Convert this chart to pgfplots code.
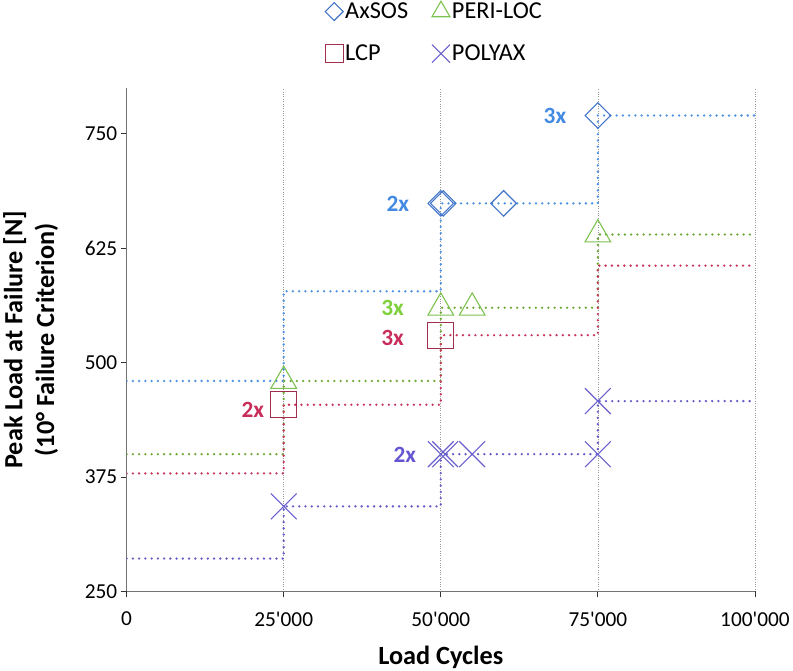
\documentclass[border=0pt]{standalone}
\usepackage{fontspec}
\setmainfont{Carlito}[Ligatures=TeXOff]
\usepackage{pgfplots}
\pgfplotsset{compat=1.18}
\definecolor{bL}{RGB}{74,144,226}
\definecolor{bM}{RGB}{66,116,200}
\definecolor{bT}{RGB}{67,138,226}
\definecolor{gL}{RGB}{108,168,50}
\definecolor{gM}{RGB}{124,194,78}
\definecolor{gT}{RGB}{126,208,60}
\definecolor{rL}{RGB}{200,52,90}
\definecolor{rM}{RGB}{158,48,78}
\definecolor{rT}{RGB}{200,45,90}
\definecolor{pL}{RGB}{100,90,200}
\definecolor{pM}{RGB}{105,95,205}
\definecolor{pT}{RGB}{100,85,210}
\tikzset{dotline/.style={line width=2.6pt, dash pattern=on 0pt off 6.3pt, line cap=round}}
\begin{document}
\begin{tikzpicture}
\begin{axis}[
  scale only axis, width=634pt, height=508pt,
  xmin=0, xmax=100000, ymin=250, ymax=800,
  axis lines=left, axis line style={-, draw=black!55, line width=1.2pt},
  scaled x ticks=false, scaled y ticks=false,
  xtick={0,25000,50000,75000,100000},
  xticklabels={0,25\textquotesingle000,50\textquotesingle000,75\textquotesingle000,100\textquotesingle000},
  ytick={250,375,500,625,750},
  yticklabels={250,375,500,625,750},
  /pgf/number format/assume math mode=true,
  tick align=outside, major tick length=6pt, tick style={black!80, line width=0.8pt},
  xmajorgrids, major grid style={black!40, dotted, line width=0.7pt},
  ticklabel style={font=\fontsize{21.5}{26}\selectfont},
  xticklabel style={yshift=-11pt},
  xlabel={Load Cycles},
  ylabel={Peak Load at Failure [N]\\(10° Failure Criterion)},
  label style={font=\bfseries\fontsize{26.5}{32}\selectfont},
  xlabel style={yshift=-14pt, inner sep=2pt},
  ylabel style={align=center, yshift=20pt},
  legend columns=2,
  legend style={at={(0.49,1.045)}, anchor=south, draw=none, fill=none,
    font=\fontsize{24.5}{29}\selectfont, row sep=21pt, inner sep=1pt,
    /tikz/every even column/.append style={column sep=22pt}},
  legend image post style={every mark/.append style={scale=0.7}},
  legend cell align=left,
]
% step lines
\addplot[const plot, bL, dotline, forget plot] coordinates {(0,480)(25000,578)(50000,674)(75000,770)(100000,770)};
\addplot[const plot, gL, dotline, forget plot] coordinates {(0,400)(25000,480)(50000,560)(75000,640)(100000,640)};
\addplot[const plot, rL, dotline, forget plot] coordinates {(0,379)(25000,454)(50000,530)(75000,606)(100000,606)};
\addplot[const plot, pL, dotline, forget plot] coordinates {(0,286)(25000,343)(50000,400)(75000,458)(100000,458)};
% markers
\addplot[only marks, mark=square, mark size=9.1pt, draw=bM, mark options={rotate=45, line width=1.1pt}] coordinates {(50000,674)(50400,674)(60000,674)(75000,770)};
\addlegendentry{AxSOS}
\addplot[only marks, mark=triangle, mark size=15pt, draw=gM, mark options={line width=1.1pt}] coordinates {(25000,480)(50000,560)(55000,560)(75000,640)};
\addlegendentry{PERI-LOC}
\addplot[only marks, mark=square, mark size=13pt, draw=rM, mark options={line width=1.1pt}] coordinates {(25000,454)(50000,530)};
\addlegendentry{LCP}
\addplot[only marks, mark=x, mark size=18.4pt, draw=pM, mark options={line width=1.1pt}] coordinates {(25000,343)(50000,400)(50700,400)(55000,400)(75000,400)(75000,458)};
\addlegendentry{POLYAX}
% annotations
\node[anchor=east, text=bT, font=\bfseries\fontsize{23.5}{28}\selectfont, inner sep=0pt] at (axis cs:45000,674) {2x};
\node[anchor=east, text=bT, font=\bfseries\fontsize{23.5}{28}\selectfont, inner sep=0pt] at (axis cs:70000,770) {3x};
\node[anchor=east, text=gT, font=\bfseries\fontsize{23.5}{28}\selectfont, inner sep=0pt] at (axis cs:44160,560) {3x};
\node[anchor=east, text=rT, font=\bfseries\fontsize{23.5}{28}\selectfont, inner sep=0pt] at (axis cs:44160,527) {3x};
\node[anchor=east, text=rT, font=\bfseries\fontsize{23.5}{28}\selectfont, inner sep=0pt] at (axis cs:21925,448) {2x};
\node[anchor=east, text=pT, font=\bfseries\fontsize{23.5}{28}\selectfont, inner sep=0pt] at (axis cs:46100,399) {2x};
\end{axis}
\end{tikzpicture}
\end{document}
